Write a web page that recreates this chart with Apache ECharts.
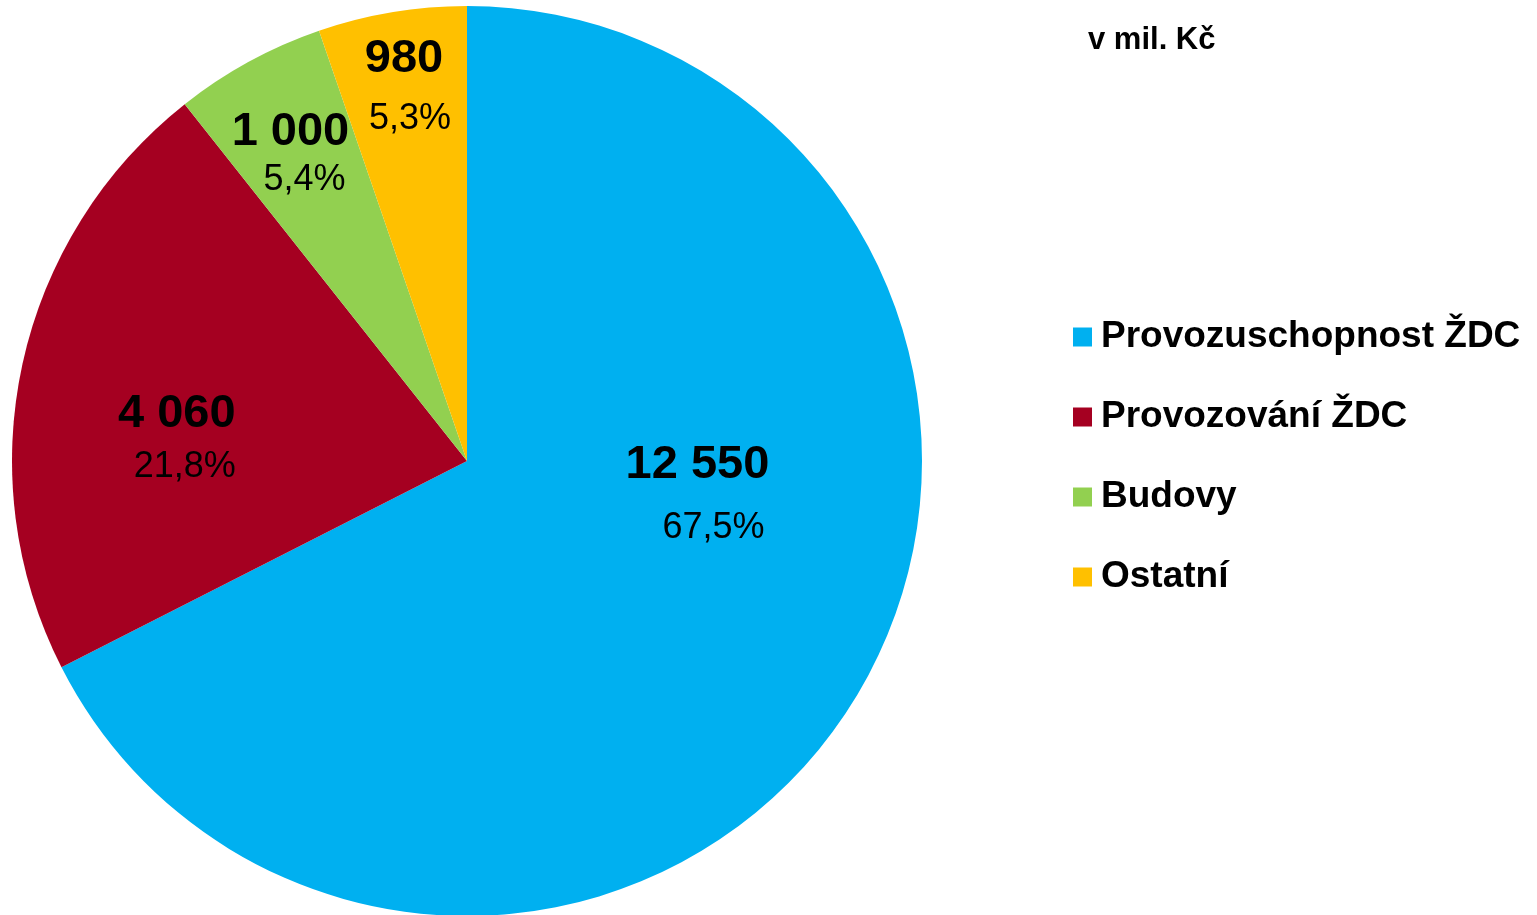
<!DOCTYPE html>
<html>
<head>
<meta charset="utf-8">
<script src="https://cdn.jsdelivr.net/npm/echarts@6/dist/echarts.min.js"></script>
<style>
html,body{margin:0;padding:0;background:#fff;}
#chart{width:1537px;height:915px;}
</style>
</head>
<body>
<div id="chart"></div>
<script>
const categories = ['Provozuschopnost ŽDC', 'Provozování ŽDC', 'Budovy', 'Ostatní'];
const values = [12550, 4060, 1000, 980];
const unitLabel = 'v mil. Kč';

const colors = ['#00B0F0', '#A50021', '#92D050', '#FFC000'];
// label placement tweaks (style only)
const labelOffsets = [[34, -79], [-65, 29], [-66, -105], [-25, -141]];
const pctLineHeights = [75, 54, 44, 68];
const pctShift = [32, 16, 28, 12];

const total = values.reduce((a, b) => a + b, 0);
function fmtNum(v) {
  return String(v).replace(/\B(?=(\d{3})+(?!\d))/g, ' ');
}
function fmtPct(v) {
  return (v / total * 100).toFixed(1).replace('.', ',') + '%';
}

const FONT = '"Liberation Sans", Arial, sans-serif';
const chart = echarts.init(document.getElementById('chart'), null, {renderer: 'canvas'});
chart.setOption({
  animation: false,
  backgroundColor: '#ffffff',
  title: {
    text: unitLabel,
    left: 1083,
    top: 20,
    textStyle: {fontFamily: FONT, fontWeight: 'bold', fontSize: 31, color: '#000'}
  },
  legend: {
    orient: 'vertical',
    left: 1068,
    top: 312,
    itemWidth: 19,
    itemHeight: 19,
    itemGap: 40,
    icon: 'rect',
    data: categories,
    textStyle: {fontFamily: FONT, fontWeight: 'bold', fontSize: 37, color: '#000', lineHeight: 40, padding: [0, 0, 0, 4]}
  },
  series: [{
    type: 'pie',
    center: [467, 461],
    radius: [0, 455],
    startAngle: 90,
    clockwise: true,
    avoidLabelOverlap: false,
    label: {
      show: true,
      position: 'inside',
      fontFamily: FONT,
      formatter: p => '{v|' + fmtNum(p.value) + '}\n{p|' + fmtPct(p.value) + '}'
    },
    labelLine: {show: false},
    emphasis: {disabled: true},
    data: categories.map((c, i) => ({
      name: c,
      value: values[i],
      itemStyle: {color: colors[i]},
      label: {
        offset: labelOffsets[i],
        rich: {
          v: {fontFamily: FONT, fontWeight: 'bold', fontSize: 47, color: '#000', lineHeight: 52, align: 'center'},
          p: {fontFamily: FONT, fontSize: 36, color: '#000', lineHeight: pctLineHeights[i], align: 'center', padding: [0, 0, 0, pctShift[i]]}
        }
      }
    }))
  }]
});
</script>
</body>
</html>
